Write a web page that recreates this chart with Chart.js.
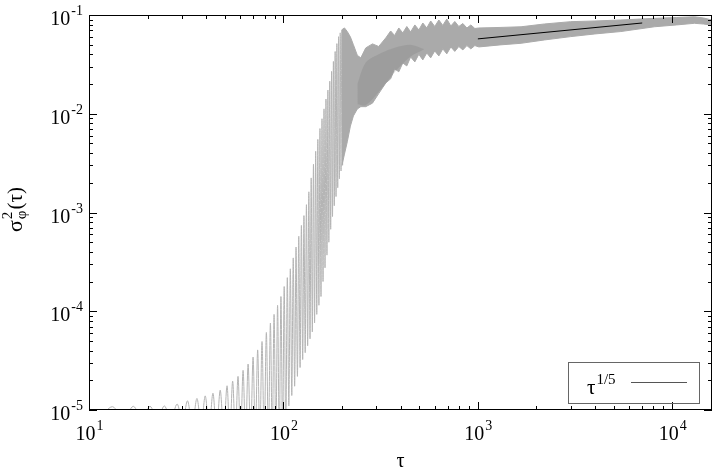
<!DOCTYPE html>
<html>
<head>
<meta charset="utf-8">
<script src="https://cdn.jsdelivr.net/npm/chart.js@4"></script>
<style>
  html, body { margin: 0; padding: 0; background: #fff; }
  #wrap { width: 715px; height: 471px; }
</style>
</head>
<body>
<div id="wrap"><canvas id="c" width="715" height="471"></canvas></div>
<script>
// sigma_phi^2(tau) on log-log axes

// Sparse part: single oscillations (troughs and peaks alternate)
var troughTau = [11.3, 15.1, 18.8, 22.5, 26.4, 30.3, 34.0, 37.8, 41.5, 45.3, 49.3, 53.0, 56.6,
  60.2, 63.9, 67.8, 71.7, 75.6, 79.6, 83.7, 87.6, 91.4, 95.2, 99.0, 102.8, 106.6, 110.4, 114.2,
  118.0, 121.8, 125.6, 129.4, 133.2, 137.0, 140.8, 144.6, 148.4, 152.2, 156.0, 159.8, 163.6,
  167.4, 171.2, 175.0, 178.8, 182.6, 186.4, 190.2, 194.0, 197.8, 201.6];
var troughVal = [8e-6, 8e-6, 8e-6, 8e-6, 8e-6, 7.5e-6, 7e-6, 7e-6, 6.5e-6, 6e-6, 6e-6, 5.5e-6, 5.5e-6,
  5e-6, 5e-6, 5e-6, 5e-6, 5e-6, 5e-6, 5e-6, 5e-6, 5e-6, 5e-6, 5e-6, 6e-6, 1.1e-5, 1.4e-5, 1.74e-5,
  2.19e-5, 2.69e-5, 3.24e-5, 3.8e-5, 4.47e-5, 5.25e-5, 6.17e-5, 7.6e-5, 9.3e-5, 1.15e-4, 1.41e-4,
  2.0e-4, 2.75e-4, 3.7e-4, 5.0e-4, 6.76e-4, 9.1e-4, 1.17e-3, 1.45e-3, 1.78e-3, 2.19e-3, 2.63e-3, 3.0e-3];
var peakTau = [13.2, 16.9, 20.6, 24.4, 28.4, 32.1, 35.9, 39.6, 43.4, 47.3, 51.3, 54.8, 58.4, 62.0,
  65.8, 69.8, 73.7, 77.6, 81.7, 85.7, 89.5, 93.3, 97.1, 100.9, 104.7, 108.5, 112.3, 116.1, 119.9,
  123.7, 127.5, 131.3, 135.1, 138.9, 142.7, 146.5, 150.3, 154.1, 157.9, 161.7, 165.5, 169.3,
  173.1, 176.9, 180.7, 184.5, 188.3, 192.1, 195.9, 199.7];
var peakVal = [1.08e-5, 1.09e-5, 1.09e-5, 1.10e-5, 1.15e-5, 1.24e-5, 1.31e-5, 1.39e-5, 1.48e-5,
  1.59e-5, 1.76e-5, 1.96e-5, 2.19e-5, 2.52e-5, 2.92e-5, 3.43e-5, 4.06e-5, 4.94e-5, 6.1e-5, 7.6e-5,
  9.3e-5, 1.15e-4, 1.41e-4, 1.78e-4, 2.19e-4, 2.69e-4, 3.47e-4, 4.47e-4, 5.75e-4, 7.41e-4, 9.3e-4,
  1.2e-3, 1.62e-3, 2.24e-3, 3.09e-3, 4.17e-3, 5.5e-3, 7.08e-3, 8.9e-3, 0.0112, 0.0141, 0.0174,
  0.0214, 0.0269, 0.0339, 0.0427, 0.0513, 0.0603, 0.066, 0.0708];

// Dense part: upper and lower edge of the oscillation band
var bandTau = [200, 206, 213, 221, 229, 240, 250, 265, 287, 309, 336, 356, 373, 392, 411, 431, 451,
  474, 497, 521, 546, 572, 600, 630, 660, 692, 726, 761, 798, 837, 878, 920, 965, 1012, 1300, 1668,
  2200, 3003, 4000, 5437, 8088, 10500, 12990, 14500, 16000];
var bandHigh = [0.071, 0.074, 0.068, 0.06, 0.05, 0.039, 0.0368, 0.0464, 0.051, 0.048, 0.0586, 0.0689,
  0.062, 0.0739, 0.0658, 0.0765, 0.0674, 0.0793, 0.0706, 0.083, 0.0739, 0.087, 0.0765, 0.089, 0.0784,
  0.0911, 0.0774, 0.086, 0.0765, 0.082, 0.0739, 0.0793, 0.073, 0.0739, 0.0748, 0.076, 0.0811, 0.0856,
  0.087, 0.089, 0.0925, 0.0943, 0.096, 0.0932, 0.089];
var bandLow = [0.003, 0.0039, 0.0052, 0.0075, 0.0095, 0.0112, 0.0118, 0.0118, 0.0128, 0.016, 0.0205,
  0.0226, 0.0285, 0.0266, 0.0327, 0.0305, 0.0376, 0.0335, 0.04, 0.0351, 0.0413, 0.0368, 0.0433, 0.0385,
  0.0454, 0.0404, 0.0475, 0.0428, 0.048, 0.0443, 0.049, 0.0454, 0.049, 0.0475, 0.0498, 0.0517, 0.0559,
  0.0604, 0.0643, 0.068, 0.076, 0.0793, 0.0824, 0.081, 0.079];

// Darker core of the band (where the oscillations overlap most)
var coreTau = [240, 265, 316, 377, 451, 530];
var coreHigh = [0.02, 0.033, 0.041, 0.047, 0.05, 0.045];
var coreLow = [0.0125, 0.0122, 0.0175, 0.027, 0.038, 0.045];

// tau^(1/5) guide line
var fitTau = [1000, 7000];
var fitVal = [0.0573, 0.083];

// decade tick labels (exponents)
var xTickExp = [1, 2, 3, 4];
var yTickExp = [-5, -4, -3, -2, -1];

var X_MIN = 10, X_MAX = 16000, Y_MIN = 1e-5, Y_MAX = 0.1;
var SERIF = '"Liberation Serif", "DejaVu Serif", serif';

// build {x,y} point lists
var oscPoints = [];
for (var i = 0; i < troughTau.length; i++) {
  oscPoints.push({ x: troughTau[i], y: troughVal[i] });
  if (i < peakTau.length) { oscPoints.push({ x: peakTau[i], y: peakVal[i] }); }
}
function zip(xs, ys) { return xs.map(function(x, i) { return { x: x, y: ys[i] }; }); }

// Draws "10" with a superscript exponent; align = 'center' | 'right'
function drawPow(ctx, base, exp, x, y, align) {
  ctx.font = '20px ' + SERIF;
  var wb = ctx.measureText(base).width;
  ctx.font = '14px ' + SERIF;
  var we = ctx.measureText(exp).width;
  var start = align === 'center' ? x - (wb + we) / 2 : x - (wb + we + 1);
  ctx.textAlign = 'left';
  ctx.font = '20px ' + SERIF;
  ctx.fillText(base, start, y);
  ctx.font = '14px ' + SERIF;
  ctx.fillText(exp, start + wb + 1, y - 10);
}

// Frame, inward ticks, labels, titles and legend (gnuplot look)
var framePlugin = {
  id: 'frame',
  afterDraw: function(chart) {
    var ctx = chart.ctx, a = chart.chartArea;
    var xs = chart.scales.x, ys = chart.scales.y;
    ctx.save();
    ctx.strokeStyle = '#000';
    ctx.fillStyle = '#000';
    ctx.lineWidth = 1;

    ctx.beginPath();
    // x ticks, bottom and top
    for (var e = 1; e <= 4; e++) {
      for (var m = 1; m <= 9; m++) {
        var v = m * Math.pow(10, e);
        if (v > X_MAX) { break; }
        var px = Math.round(xs.getPixelForValue(v)) + 0.5;
        var len = m === 1 ? 8 : 4;
        ctx.moveTo(px, a.bottom); ctx.lineTo(px, a.bottom - len);
        ctx.moveTo(px, a.top); ctx.lineTo(px, a.top + len);
      }
    }
    // y ticks, left and right
    for (var ey = -5; ey <= -2; ey++) {
      for (var my = 1; my <= 9; my++) {
        var vy = my * Math.pow(10, ey);
        var py = Math.round(ys.getPixelForValue(vy)) + 0.5;
        var leny = my === 1 ? 8 : 4;
        ctx.moveTo(a.left, py); ctx.lineTo(a.left + leny, py);
        ctx.moveTo(a.right, py); ctx.lineTo(a.right - leny, py);
      }
    }
    ctx.stroke();
    ctx.strokeRect(a.left + 0.5, a.top + 0.5, a.right - a.left - 1, a.bottom - a.top - 1);

    // tick labels
    ctx.textBaseline = 'alphabetic';
    xTickExp.forEach(function(e) {
      drawPow(ctx, '10', String(e), xs.getPixelForValue(Math.pow(10, e)), 440, 'center');
    });
    yTickExp.forEach(function(e) {
      drawPow(ctx, '10', String(e), 83, ys.getPixelForValue(Math.pow(10, e)) + 10, 'right');
    });

    // x title
    ctx.font = '20px ' + SERIF;
    ctx.textAlign = 'center';
    ctx.fillText('τ', (a.left + a.right) / 2, 467);

    // y title: sigma^2_phi(tau), rotated
    ctx.save();
    ctx.translate(22, 232);
    ctx.rotate(-Math.PI / 2);
    ctx.textAlign = 'left';
    ctx.font = '22px ' + SERIF;
    var ws = ctx.measureText('σ').width;
    ctx.fillText('σ', 0, 0);
    ctx.font = '15px ' + SERIF;
    var w2 = ctx.measureText('2').width, wp = ctx.measureText('φ').width;
    ctx.fillText('2', ws + 1, -10);
    ctx.fillText('φ', ws + 1, 4);
    ctx.font = '21px ' + SERIF;
    ctx.fillText('(τ)', ws + 2 + Math.max(w2, wp), 0);
    ctx.restore();

    // legend box
    ctx.strokeStyle = '#666';
    ctx.strokeRect(568.5, 362.5, 131, 41);
    ctx.font = '21px ' + SERIF;
    ctx.textAlign = 'left';
    ctx.fillText('τ', 587, 394);
    var wt = ctx.measureText('τ').width;
    ctx.font = '15px ' + SERIF;
    ctx.fillText('1/5', 587 + wt + 1, 384);
    ctx.strokeStyle = '#555';
    ctx.beginPath();
    ctx.moveTo(631, 382.5); ctx.lineTo(687, 382.5);
    ctx.stroke();
    ctx.restore();
  }
};

new Chart(document.getElementById('c'), {
  type: 'line',
  data: {
    datasets: [
      {
        label: 'fit',
        data: zip(fitTau, fitVal),
        borderColor: '#000',
        borderWidth: 1,
        pointRadius: 0,
        fill: false,
      },
      {
        label: 'core high',
        data: zip(coreTau, coreHigh),
        borderColor: 'rgba(0,0,0,0)',
        borderWidth: 0,
        pointRadius: 0,
        tension: 0.3,
        fill: false,
      },
      {
        label: 'core low',
        data: zip(coreTau, coreLow),
        borderColor: 'rgba(0,0,0,0)',
        backgroundColor: 'rgba(130,130,130,0.3)',
        borderWidth: 0,
        pointRadius: 0,
        tension: 0.3,
        fill: '-1',
      },
      {
        label: 'band high',
        data: zip(bandTau, bandHigh),
        borderColor: '#aaaaaa',
        borderWidth: 1,
        pointRadius: 0,
        fill: false,
      },
      {
        label: 'band low',
        data: zip(bandTau, bandLow),
        borderColor: '#aaaaaa',
        backgroundColor: '#aaaaaa',
        borderWidth: 1,
        pointRadius: 0,
        fill: '-1',
      },
      {
        label: 'oscillation',
        data: oscPoints,
        borderColor: '#b4b4b4',
        borderWidth: 1,
        pointRadius: 0,
        cubicInterpolationMode: 'monotone',
        fill: false,
      },
    ],
  },
  options: {
    responsive: false,
    animation: false,
    events: [],
    layout: { padding: { left: 89, right: 3, top: 15, bottom: 61 } },
    plugins: { legend: { display: false }, tooltip: { enabled: false } },
    scales: {
      x: { type: 'logarithmic', min: X_MIN, max: X_MAX, display: false },
      y: { type: 'logarithmic', min: Y_MIN, max: Y_MAX, display: false },
    },
  },
  plugins: [framePlugin],
});
</script>
</body>
</html>
